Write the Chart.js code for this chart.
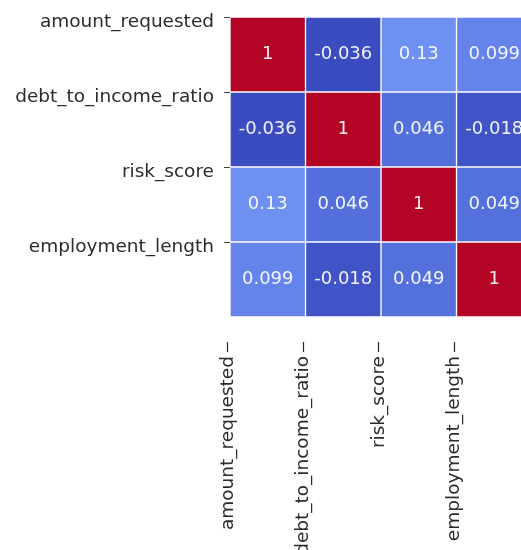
<!DOCTYPE html>
<html>
<head>
<meta charset="utf-8">
<script src="https://cdn.jsdelivr.net/npm/chart.js@4"></script>
<style>
  body { margin: 0; background: #fff; }
</style>
</head>
<body>
<canvas id="heatmap" width="521" height="550"></canvas>
<script>
// correlation heatmap (coolwarm)

const featureLabels = ['amount_requested', 'debt_to_income_ratio', 'risk_score', 'employment_length'];

// rows of the correlation matrix
const amountRequestedRow = [1, -0.036, 0.13, 0.099];
const debtToIncomeRow = [-0.036, 1, 0.046, -0.018];
const riskScoreRow = [0.13, 0.046, 1, 0.049];
const employmentLengthRow = [0.099, -0.018, 0.049, 1];
const corrRows = [amountRequestedRow, debtToIncomeRow, riskScoreRow, employmentLengthRow];

const vmin = -0.036;
const vmax = 1;

// coolwarm colormap anchors
const coolwarmStops = [
  [0.0, [59, 76, 192]],
  [0.03125, [68, 90, 204]],
  [0.0625, [77, 104, 215]],
  [0.125, [98, 130, 234]],
  [0.1875, [119, 154, 247]],
  [0.25, [141, 176, 254]],
  [0.5, [221, 221, 221]],
  [0.75, [244, 153, 122]],
  [1.0, [180, 4, 38]]
];

function coolwarm(v) {
  let t = (v - vmin) / (vmax - vmin);
  t = Math.max(0, Math.min(1, t));
  for (let k = 1; k < coolwarmStops.length; k++) {
    const [t1, c1] = coolwarmStops[k];
    const [t0, c0] = coolwarmStops[k - 1];
    if (t <= t1) {
      const f = (t - t0) / (t1 - t0);
      const c = c0.map((a, i) => Math.round(a + (c1[i] - a) * f));
      return `rgb(${c[0]}, ${c[1]}, ${c[2]})`;
    }
  }
  return 'rgb(180, 4, 38)';
}

const labelFont = { family: 'DejaVu Sans', size: 18.5 };
const textColor = '#2b2b2b';

// one dataset per column, floating horizontal bars
const datasets = featureLabels.map((_, j) => ({
  data: corrRows.map((row, i) => ({ y: i + 0.5, x: [j, j + 1] })),
  backgroundColor: corrRows.map(row => coolwarm(row[j])),
  borderColor: '#ffffff',
  borderWidth: 1,
  borderSkipped: false,
  grouped: false,
  barPercentage: 1,
  categoryPercentage: 1
}));

// cell annotations
const annotatePlugin = {
  id: 'annotate',
  afterDatasetsDraw(chart) {
    const { ctx, scales: { x, y } } = chart;
    ctx.save();
    ctx.font = '18px "DejaVu Sans"';
    ctx.fillStyle = 'rgba(255, 255, 255, 0.92)';
    ctx.textAlign = 'center';
    ctx.textBaseline = 'middle';
    corrRows.forEach((row, i) => {
      row.forEach((v, j) => {
        ctx.fillText(String(v), x.getPixelForValue(j + 0.5), y.getPixelForValue(i + 0.5));
      });
    });
    ctx.restore();
  }
};

// little tick dashes at the top of the rotated x labels
const xTickPlugin = {
  id: 'xTicks',
  afterDraw(chart) {
    const { ctx, scales: { x } } = chart;
    ctx.save();
    ctx.strokeStyle = textColor;
    ctx.lineWidth = 1.2;
    x.ticks.forEach(t => {
      const px = Math.round(x.getPixelForValue(t.value)) - 2.5;
      ctx.beginPath();
      ctx.moveTo(px, x.top + 25);
      ctx.lineTo(px, x.top + 35);
      ctx.stroke();
    });
    ctx.restore();
  }
};

new Chart(document.getElementById('heatmap'), {
  type: 'bar',
  data: { datasets },
  options: {
    responsive: false,
    animation: false,
    indexAxis: 'y',
    layout: { padding: { top: 17, right: 0, left: 0, bottom: 0 } },
    plugins: {
      legend: { display: false },
      tooltip: { enabled: false }
    },
    scales: {
      x: {
        type: 'linear',
        position: 'bottom',
        min: 0,
        max: 3.854,
        offset: false,
        afterBuildTicks: scale => { scale.ticks = featureLabels.map((_, i) => ({ value: i })); },
        afterFit: scale => {
          scale.height = 233;
          scale.paddingLeft = 0;
          scale.paddingRight = 0;
        },
        grid: { display: false, offset: false },
        border: { display: false },
        ticks: {
          autoSkip: false,
          minRotation: 90,
          maxRotation: 90,
          padding: 31,
          labelOffset: -2,
          font: labelFont,
          color: textColor,
          callback: v => featureLabels[v]
        }
      },
      y: {
        type: 'linear',
        reverse: true,
        min: 0,
        max: 4,
        offset: false,
        afterBuildTicks: scale => { scale.ticks = featureLabels.map((_, i) => ({ value: i })); },
        afterFit: scale => {
          scale.width = 230;
          scale.paddingTop = 0;
          scale.paddingBottom = 0;
        },
        grid: { display: true, offset: false, drawOnChartArea: false, drawTicks: true, tickLength: 6, color: '#444' },
        border: { display: false },
        ticks: {
          autoSkip: false,
          padding: 10,
          labelOffset: 5,
          font: labelFont,
          color: textColor,
          callback: v => featureLabels[v]
        }
      }
    }
  },
  plugins: [annotatePlugin, xTickPlugin]
});
</script>
</body>
</html>
